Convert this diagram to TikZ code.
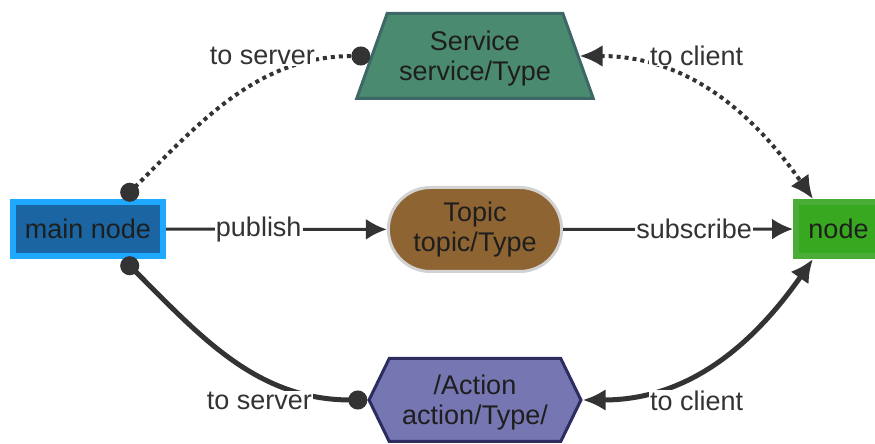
\documentclass[tikz,border=0pt]{standalone}
\usepackage{fontspec}
\setmainfont{Liberation Sans}
\usetikzlibrary{arrows.meta,shapes.geometric,shapes.misc,shapes.symbols}

\definecolor{linecol}{HTML}{333333}
\definecolor{txtcol}{HTML}{1E1E1E}
\definecolor{mainfill}{HTML}{1A65A2}
\definecolor{mainline}{HTML}{1EA8FF}
\definecolor{peerfill}{HTML}{38A820}
\definecolor{peerline}{HTML}{4AAE36}
\definecolor{topicfill}{HTML}{8F6433}
\definecolor{topicline}{HTML}{D2D2D2}
\definecolor{srvfill}{HTML}{4A8A6E}
\definecolor{srvline}{HTML}{3E6868}
\definecolor{actfill}{HTML}{7676B2}
\definecolor{actline}{HTML}{2C2C5E}

\begin{document}
\begin{tikzpicture}[x=1pt,y=1pt,
  every node/.style={font=\fontsize{27}{30}\selectfont,text=txtcol,align=center},
  box/.style={rectangle,line width=6pt,minimum height=54pt},
  lbl/.style={fill=white,text=linecol,inner sep=1pt},
  flow/.style={draw=linecol,line width=3pt,-{Latex[length=21pt,width=21pt]}},
  dotted link/.style={draw=linecol,line width=4pt,dash pattern=on 4pt off 4pt},
  solid link/.style={draw=linecol,line width=5pt},
  dot ends/.style={{Circle[length=19pt]}-{Circle[length=19pt]}},
  arrow ends/.style={{Latex[length=23pt,width=22pt]}-{Latex[length=23pt,width=22pt]}}]
  \useasboundingbox (0,0) rectangle (875,444);
  % nodes
  \node[box,draw=mainline,fill=mainfill,minimum width=150pt] (main) at (88,215) {main node};
  \node[rounded rectangle,draw=topicline,fill=topicfill,line width=3pt,
        minimum width=180pt,minimum height=84pt] (topic) at (475,214.5) {Topic\\topic/Type};
  \node[box,draw=peerline,fill=peerfill,minimum width=85pt] (peer) at (838.5,215) {node};
  \node[trapezium,trapezium angle=64,trapezium stretches=true,draw=srvline,fill=srvfill,
        line width=3pt,minimum width=237pt,minimum height=85pt,text depth=-3pt] (service) at (475,388) {Service\\service/Type};
  \node[signal,signal to=east and west,signal pointer angle=128,draw=actline,fill=actfill,
        line width=3pt,minimum width=212pt,minimum height=83pt,text depth=-4pt] (action) at (475,44) {/Action\\action/Type/};
  % topic
  \draw[flow] (main) -- node[lbl,pos=0.42]{publish} (topic);
  \draw[flow] (topic) -- node[lbl,pos=0.57]{subscribe} (peer);
  % service
  \draw[dotted link,dot ends] ([xshift=35pt]main.north) to[out=45,in=180]
    node[lbl,pos=0.83,anchor=east,yshift=5pt]{to server} (service.west);
  \draw[dotted link,arrow ends] (service.east) to[out=0,in=125]
    node[lbl,pos=0.23,anchor=west,yshift=9pt]{to client} ([xshift=-25.5pt]peer.north);
  % action
  \draw[solid link,dot ends] ([xshift=35pt]main.south) to[out=-45,in=180]
    node[lbl,pos=0.83,anchor=east,yshift=-6pt]{to server} (action.west);
  \draw[solid link,arrow ends] (action.east) to[out=0,in=-125]
    node[lbl,pos=0.22,anchor=west,yshift=-9pt]{to client} ([xshift=-25.5pt]peer.south);
\end{tikzpicture}
\end{document}
